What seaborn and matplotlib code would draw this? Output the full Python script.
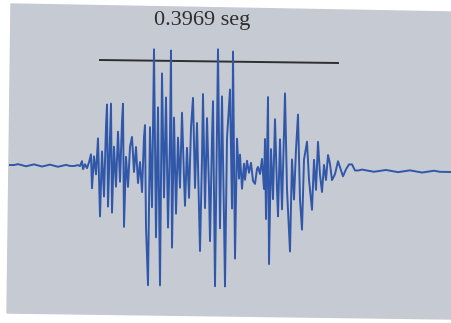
# waveform with the 0.3969 seg duration bar
import numpy as np
import pandas as pd
import seaborn as sns
import matplotlib.pyplot as plt

# quiet part before the burst (x position in px, amplitude in px)
pre_x = [10, 14, 18, 22, 26, 30, 34, 38, 42, 46, 50, 54, 58, 62, 66, 70, 74, 78]
pre_amp = [0, 0, 1, 0, -1, 0, 1, 0, -1, 0, 1, 0, -1, 0, 1, 0, 0, 1]

# the burst: turning points
burst_x = [80, 82, 83, 85, 87, 89, 91, 92, 94, 96, 98, 100, 102, 104, 106, 107, 108,
           110, 111, 112, 114, 116, 118, 120, 122, 123, 124, 126, 128, 130, 132, 134,
           136, 138, 140, 142, 144, 145, 146, 148, 150, 152, 154, 156, 158, 160, 162,
           164, 166, 168, 170, 171, 172, 174, 176, 178, 180, 182, 184, 185, 187, 189,
           191, 193, 195, 197, 200, 202, 203, 205, 207, 209, 210, 212, 213, 215, 218,
           220, 222, 224, 225, 227, 230, 232, 233, 235, 237, 239, 240, 242, 244, 245,
           247, 249, 251, 253, 255, 257, 258, 260, 262, 264, 265, 266, 268, 269, 271,
           273, 275, 277, 278, 280, 282, 285, 287, 290, 292, 294, 296, 298, 300, 302,
           304, 307, 309, 312, 314, 316, 318, 320, 322, 324, 326, 328, 330, 332, 335,
           338, 341, 343, 346, 349, 352, 355, 358]
burst_amp = [0, 5, -3, 2, -2, 4, 12, -22, 10, -8, 28, -50, 15, -30, 40, 62, -40,
             30, 63, -46, 20, -20, 35, -15, 45, 63, -60, 10, -20, 20, 30, -5,
             20, -16, 5, -25, 30, 42, -60, -118, 40, -40, 118, -70, 60, -118, 94,
             -30, 70, -60, 30, 117, -80, 50, -46, 30, -20, 55, -10, -38, 20, -30,
             40, 70, -20, 45, -83, 10, 74, -40, 50, -20, -73, 30, 67, -118, 119,
             -60, 72, -50, -118, 30, 79, -40, 117, -90, 30, -10, 14, -20, 5, -11,
             8, -4, 6, -12, -15, 0, 2, -5, 10, -20, 30, -50, 72, -95, 20,
             -30, 50, -20, -47, 30, -40, 76, -20, -82, 10, -30, 20, 55, -30, -60,
             10, 28, -10, -40, 10, -20, 28, -5, -22, 5, -10, 15, 6, -10, -4,
             9, 0, -6, 1, 6, 6, 0, 0]

# quiet tail
post_x = [362, 368, 374, 380, 386, 392, 398, 404, 410, 416, 422, 428, 434, 440, 446, 451]
post_amp = [1, 0, -1, 0, 1, 0, -1, 0, 1, 0, -1, 0, 1, 0, 0, 0]

label = "0.3969 seg"

x = np.array(pre_x + burst_x + post_x, dtype=float)
amp = np.array(pre_amp + burst_amp + post_amp, dtype=float)
# the scan is slightly tilted, baseline drifts from 165 to 172 px
y = 165 + 7 * (x - 10) / 441 - amp
df = pd.DataFrame({"x": x, "y": y})

fig = plt.figure(figsize=(4.51, 3.23), dpi=100)
fig.patch.set_facecolor("white")
ax = fig.add_axes([0, 0, 1, 1])
ax.set_xlim(0, 451)
ax.set_ylim(323, 0)
ax.axis("off")

# gray screen area
ax.fill([11, 451, 451, 7], [4, 12, 319, 313], color="#c6cad3", zorder=0)

sns.lineplot(data=df, x="x", y="y", ax=ax, color="#3158a8", linewidth=1.4,
             estimator=None, sort=False, zorder=2)

# duration bar and label
ax.plot([100, 338], [60, 63], color="#2f2f2f", linewidth=1.4, zorder=1)
ax.text(202, 20, label, ha="center", va="center", fontsize=16,
        family="Liberation Serif", color="#2e2e2e")

fig.savefig("out.png", dpi=100)
